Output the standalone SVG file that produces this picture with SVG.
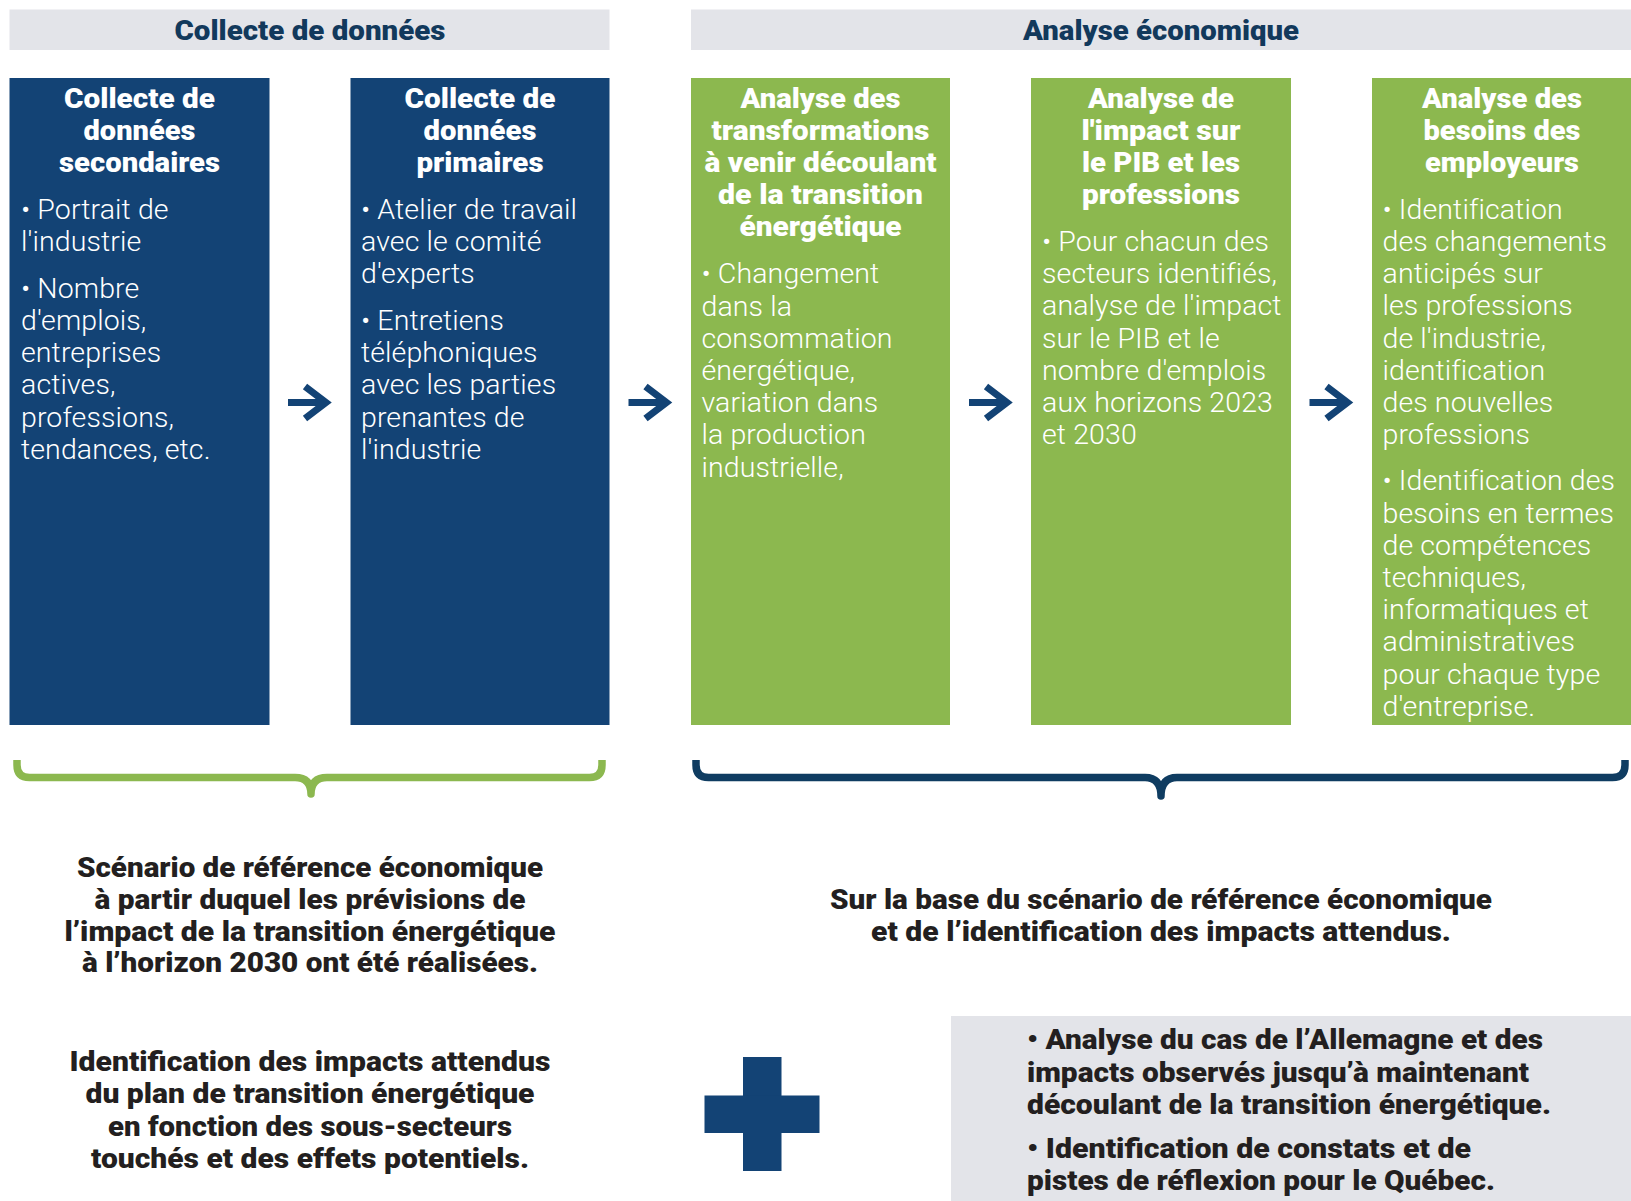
<svg xmlns="http://www.w3.org/2000/svg" width="1631" height="1201" viewBox="0 0 1631 1201">
  <style>
    .band { fill: #e3e4e9; }
    .hdr { font-family: Roboto, "Liberation Sans", sans-serif; font-weight: 900; font-size: 27px; fill: #12395c; text-anchor: middle; }
    .blue { fill: #134375; }
    .green { fill: #8cb84f; }
    .ttl { font-family: Roboto, "Liberation Sans", sans-serif; font-weight: 900; font-size: 28px; fill: #ffffff; text-anchor: middle; }
    .body { font-family: Roboto, "Liberation Sans", sans-serif; font-weight: 300; font-size: 28.5px; letter-spacing: 0.1px; fill: #ffffff; }
    .note { font-family: Roboto, "Liberation Sans", sans-serif; font-weight: 900; font-size: 27px; fill: #231f20; text-anchor: middle; }
    .list { font-family: Roboto, "Liberation Sans", sans-serif; font-weight: 900; font-size: 27px; fill: #231f20; }
    .arrow { fill: none; stroke: #134375; stroke-width: 7; stroke-linejoin: miter; stroke-miterlimit: 10; }
    .brace { fill: none; stroke-width: 7.5; stroke-linecap: butt; stroke-linejoin: round; }
  </style>
  <defs>
    <path id="arrow" class="arrow" d="M0 0 H36 M17 -16 L38 0 L17 16"/>
  </defs>

  <!-- Section headers -->
  <g id="header-collecte">
    <rect class="band" x="9.5" y="9.5" width="600" height="40.5"/>
    <text class="hdr" x="310" y="39.5" textLength="271" lengthAdjust="spacingAndGlyphs">Collecte de données</text>
  </g>
  <g id="header-analyse">
    <rect class="band" x="691" y="9.5" width="940" height="40.5"/>
    <text class="hdr" x="1161" y="39.5" textLength="276" lengthAdjust="spacingAndGlyphs">Analyse économique</text>
  </g>

  <!-- Step 1 -->
  <g id="step-secondaires">
    <rect class="blue" x="9.5" y="78" width="260" height="647"/>
    <text class="ttl" x="139.5" y="108" textLength="151" lengthAdjust="spacingAndGlyphs">Collecte de</text>
    <text class="ttl" x="139.5" y="140" textLength="112" lengthAdjust="spacingAndGlyphs">données</text>
    <text class="ttl" x="139.5" y="172" textLength="161" lengthAdjust="spacingAndGlyphs">secondaires</text>
    <text class="body">
      <tspan x="21" y="218.8">• Portrait de</tspan>
      <tspan x="21" y="251">l'industrie</tspan>
      <tspan x="21" y="297.8">• Nombre</tspan>
      <tspan x="21" y="330">d'emplois,</tspan>
      <tspan x="21" y="362.2">entreprises</tspan>
      <tspan x="21" y="394.4">actives,</tspan>
      <tspan x="21" y="426.6">professions,</tspan>
      <tspan x="21" y="458.8">tendances, etc.</tspan>
    </text>
  </g>

  <!-- Step 2 -->
  <g id="step-primaires">
    <rect class="blue" x="350.5" y="78" width="259" height="647"/>
    <text class="ttl" x="480" y="108" textLength="151" lengthAdjust="spacingAndGlyphs">Collecte de</text>
    <text class="ttl" x="480" y="140" textLength="113" lengthAdjust="spacingAndGlyphs">données</text>
    <text class="ttl" x="480" y="172" textLength="127" lengthAdjust="spacingAndGlyphs">primaires</text>
    <text class="body">
      <tspan x="361" y="218.8">• Atelier de travail</tspan>
      <tspan x="361" y="251">avec le comité</tspan>
      <tspan x="361" y="283.2">d'experts</tspan>
      <tspan x="361" y="330">• Entretiens</tspan>
      <tspan x="361" y="362.2">téléphoniques</tspan>
      <tspan x="361" y="394.4">avec les parties</tspan>
      <tspan x="361" y="426.6">prenantes de</tspan>
      <tspan x="361" y="458.8">l'industrie</tspan>
    </text>
  </g>

  <!-- Step 3 -->
  <g id="step-transformations">
    <rect class="green" x="691" y="78" width="259" height="647"/>
    <text class="ttl" x="820.5" y="108" textLength="160" lengthAdjust="spacingAndGlyphs">Analyse des</text>
    <text class="ttl" x="820.5" y="140" textLength="218" lengthAdjust="spacingAndGlyphs">transformations</text>
    <text class="ttl" x="820.5" y="172" textLength="232" lengthAdjust="spacingAndGlyphs">à venir découlant</text>
    <text class="ttl" x="820.5" y="204" textLength="205" lengthAdjust="spacingAndGlyphs">de la transition</text>
    <text class="ttl" x="820.5" y="236" textLength="162" lengthAdjust="spacingAndGlyphs">énergétique</text>
    <text class="body">
      <tspan x="701.5" y="283.3">• Changement</tspan>
      <tspan x="701.5" y="315.5">dans la</tspan>
      <tspan x="701.5" y="347.7">consommation</tspan>
      <tspan x="701.5" y="379.9">énergétique,</tspan>
      <tspan x="701.5" y="412.1">variation dans</tspan>
      <tspan x="701.5" y="444.3">la production</tspan>
      <tspan x="701.5" y="476.5">industrielle,</tspan>
    </text>
  </g>

  <!-- Step 4 -->
  <g id="step-pib">
    <rect class="green" x="1031" y="78" width="260" height="647"/>
    <text class="ttl" x="1161" y="108" textLength="146" lengthAdjust="spacingAndGlyphs">Analyse de</text>
    <text class="ttl" x="1161" y="140" textLength="159" lengthAdjust="spacingAndGlyphs">l'impact sur</text>
    <text class="ttl" x="1161" y="172" textLength="158" lengthAdjust="spacingAndGlyphs">le PIB et les</text>
    <text class="ttl" x="1161" y="204" textLength="158" lengthAdjust="spacingAndGlyphs">professions</text>
    <text class="body">
      <tspan x="1042" y="251">• Pour chacun des</tspan>
      <tspan x="1042" y="283.2">secteurs identifiés,</tspan>
      <tspan x="1042" y="315.4">analyse de l'impact</tspan>
      <tspan x="1042" y="347.6">sur le PIB et le</tspan>
      <tspan x="1042" y="379.8">nombre d'emplois</tspan>
      <tspan x="1042" y="412">aux horizons 2023</tspan>
      <tspan x="1042" y="444.2">et 2030</tspan>
    </text>
  </g>

  <!-- Step 5 -->
  <g id="step-employeurs">
    <rect class="green" x="1372" y="78" width="259" height="647"/>
    <text class="ttl" x="1502" y="108" textLength="160" lengthAdjust="spacingAndGlyphs">Analyse des</text>
    <text class="ttl" x="1502" y="140" textLength="157" lengthAdjust="spacingAndGlyphs">besoins des</text>
    <text class="ttl" x="1502" y="172" textLength="154" lengthAdjust="spacingAndGlyphs">employeurs</text>
    <text class="body">
      <tspan x="1382.5" y="218.8">• Identification</tspan>
      <tspan x="1382.5" y="251">des changements</tspan>
      <tspan x="1382.5" y="283.2">anticipés sur</tspan>
      <tspan x="1382.5" y="315.4">les professions</tspan>
      <tspan x="1382.5" y="347.6">de l'industrie,</tspan>
      <tspan x="1382.5" y="379.8">identification</tspan>
      <tspan x="1382.5" y="412">des nouvelles</tspan>
      <tspan x="1382.5" y="444.2">professions</tspan>
      <tspan x="1382.5" y="490.3">• Identification des</tspan>
      <tspan x="1382.5" y="522.5">besoins en termes</tspan>
      <tspan x="1382.5" y="554.7">de compétences</tspan>
      <tspan x="1382.5" y="586.9">techniques,</tspan>
      <tspan x="1382.5" y="619.1">informatiques et</tspan>
      <tspan x="1382.5" y="651.3">administratives</tspan>
      <tspan x="1382.5" y="683.5">pour chaque type</tspan>
      <tspan x="1382.5" y="715.7">d'entreprise.</tspan>
    </text>
  </g>

  <!-- Connectors: step arrows and grouping braces -->
  <g id="connectors">
    <use href="#arrow" x="288" y="402.5"/>
    <use href="#arrow" x="628.5" y="402.5"/>
    <use href="#arrow" x="969" y="402.5"/>
    <use href="#arrow" x="1309.5" y="402.5"/>
    <path class="brace" stroke="#8cb84f" d="M17 760 V765 Q17 777.5 29.5 777.5 H295 Q311 777.5 311 794 Q311 777.5 327 777.5 H589.5 Q602 777.5 602 765 V760"/>
    <path class="brace" stroke="#0f3c61" d="M696 760 V765 Q696 777.5 708.5 777.5 H1145 Q1161 777.5 1161 796 Q1161 777.5 1177 777.5 H1612.5 Q1625 777.5 1625 765 V760"/>
  </g>

  <!-- Outcome notes -->
  <g id="note-scenario">
    <text class="note" x="310" y="877" textLength="466" lengthAdjust="spacingAndGlyphs">Scénario de référence économique</text>
    <text class="note" x="310" y="909" textLength="431" lengthAdjust="spacingAndGlyphs">à partir duquel les prévisions de</text>
    <text class="note" x="310" y="941" textLength="491" lengthAdjust="spacingAndGlyphs">l’impact de la transition énergétique</text>
    <text class="note" x="310" y="972" textLength="456" lengthAdjust="spacingAndGlyphs">à l’horizon 2030 ont été réalisées.</text>
  </g>
  <g id="note-base">
    <text class="note" x="1161" y="909" textLength="662" lengthAdjust="spacingAndGlyphs">Sur la base du scénario de référence économique</text>
    <text class="note" x="1161" y="941" textLength="580" lengthAdjust="spacingAndGlyphs">et de l’identification des impacts attendus.</text>
  </g>
  <g id="note-impacts">
    <text class="note" x="310" y="1071" textLength="481" lengthAdjust="spacingAndGlyphs">Identification des impacts attendus</text>
    <text class="note" x="310" y="1103" textLength="449" lengthAdjust="spacingAndGlyphs">du plan de transition énergétique</text>
    <text class="note" x="310" y="1135.5" textLength="404" lengthAdjust="spacingAndGlyphs">en fonction des sous-secteurs</text>
    <text class="note" x="310" y="1168" textLength="438" lengthAdjust="spacingAndGlyphs">touchés et des effets potentiels.</text>
  </g>

  <!-- Plus sign -->
  <g id="plus">
    <rect class="blue" x="743" y="1057" width="38.5" height="114"/>
    <rect class="blue" x="704.5" y="1095.5" width="115" height="37.5"/>
  </g>

  <!-- International comparison box -->
  <g id="note-allemagne">
    <rect class="band" x="951" y="1016" width="680" height="185"/>
    <text class="list" x="1027" y="1049" textLength="516" lengthAdjust="spacingAndGlyphs">• Analyse du cas de l’Allemagne et des</text>
    <text class="list" x="1027" y="1081.5" textLength="502" lengthAdjust="spacingAndGlyphs">impacts observés jusqu’à maintenant</text>
    <text class="list" x="1027" y="1114" textLength="524" lengthAdjust="spacingAndGlyphs">découlant de la transition énergétique.</text>
    <text class="list" x="1027" y="1157.5" textLength="444" lengthAdjust="spacingAndGlyphs">• Identification de constats et de</text>
    <text class="list" x="1027" y="1189.5" textLength="468" lengthAdjust="spacingAndGlyphs">pistes de réflexion pour le Québec.</text>
  </g>
</svg>
